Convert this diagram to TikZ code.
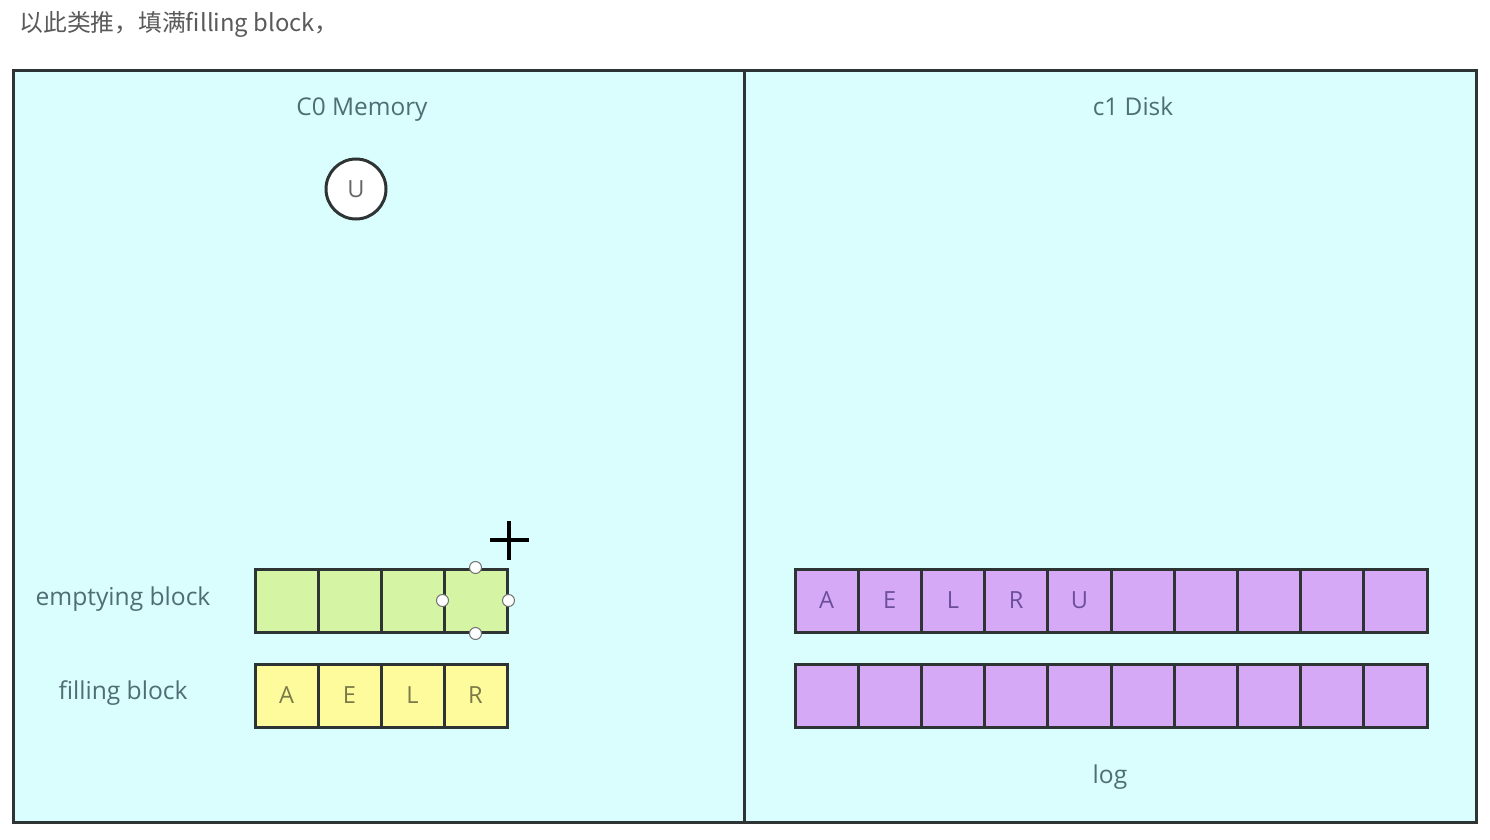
\documentclass[tikz,border=0pt]{standalone}
\usepackage{fontspec}
\setmainfont{Open Sans}
\newfontfamily\cjk{Noto Sans CJK SC}
\definecolor{panel}{HTML}{DAFDFD}
\definecolor{frame}{HTML}{2E3434}
\definecolor{greencell}{HTML}{D6F5A4}
\definecolor{yellowcell}{HTML}{FDFB9C}
\definecolor{purplecell}{HTML}{D6A9F7}
\definecolor{titletext}{HTML}{4E6E74}
\definecolor{olivetext}{HTML}{7C7A48}
\definecolor{purpletext}{HTML}{6B4F98}
\definecolor{toptext}{HTML}{5A5A5A}
\begin{document}
\begin{tikzpicture}[x=0.5pt,y=-0.5pt,
  cellbox/.style={draw=frame,line width=1.5pt,minimum width=31.5pt,minimum height=31.5pt,inner sep=0pt,font=\fontsize{11.8}{13}\selectfont},
  gcell/.style={cellbox,fill=greencell,text=olivetext},
  ycell/.style={cellbox,fill=yellowcell,text=olivetext},
  pcell/.style={cellbox,fill=purplecell,text=purpletext,minimum width=31.6pt},
  handle/.style={circle,draw=black!55,fill=white,line width=0.5pt,minimum size=6pt,inner sep=0pt},
  title/.style={text=titletext,font=\fontsize{12.2}{14}\selectfont,anchor=base},
  label/.style={text=titletext,font=\fontsize{12.3}{14}\selectfont}
]
\useasboundingbox (0,0) rectangle (1490,840);
\fill[white] (0,0) rectangle (1490,840);
% top caption
\node[anchor=west,text=toptext,font=\cjk\fontsize{11.9}{13}\selectfont,inner sep=0pt] (cap) at (19,24) {以此类推，填满filling block，};
% panels
\draw[frame,line width=1.5pt,fill=panel] (13,71) rectangle (1476,822);
\draw[frame,line width=1.5pt] (744,71) -- (744,822);
\node[title] (mem) at (362,116) {C0 Memory};
\node[title] (disk) at (1133,116) {c1 Disk};
% circle U
\node[circle,draw=frame,line width=1.5pt,fill=white,minimum size=30pt,inner sep=0pt,text=black!60,font=\fontsize{11.8}{13}\selectfont] (u) at (356,189) {U};
% labels
\node[label] (lblE) at (123,599) {emptying block};
\node[label] (lblF) at (123,693) {filling block};
% emptying block
\foreach \i in {1,...,4} {
  \node[gcell] (e\i) at ({255+31.5+63*(\i-1)},600.5) {};
}
% filling block
\foreach \i/\t in {1/A,2/E,3/L,4/R} {
  \node[ycell] (f\i) at ({255+31.5+63*(\i-1)},695.5) {\t};
}
% selection handles
\node[handle] (h1) at (e4.north) {};
\node[handle] (h2) at (e4.west) {};
\node[handle] (h3) at (e4.east) {};
\node[handle] (h4) at (e4.south) {};
% cursor cross
\draw[black,line width=1.6pt] (490,540) -- (529,540);
\draw[black,line width=1.6pt] (509,521) -- (509,560);
% disk rows
\foreach \i/\t in {1/A,2/E,3/L,4/R,5/U,6/,7/,8/,9/,10/} {
  \node[pcell] (d\i) at ({795+31.6+63.2*(\i-1)},600.5) {\t};
}
\foreach \i in {1,...,10} {
  \node[pcell] (g\i) at ({795+31.6+63.2*(\i-1)},695.5) {};
}
\node[label] (log) at (1110,777) {log};
\end{tikzpicture}
\end{document}
